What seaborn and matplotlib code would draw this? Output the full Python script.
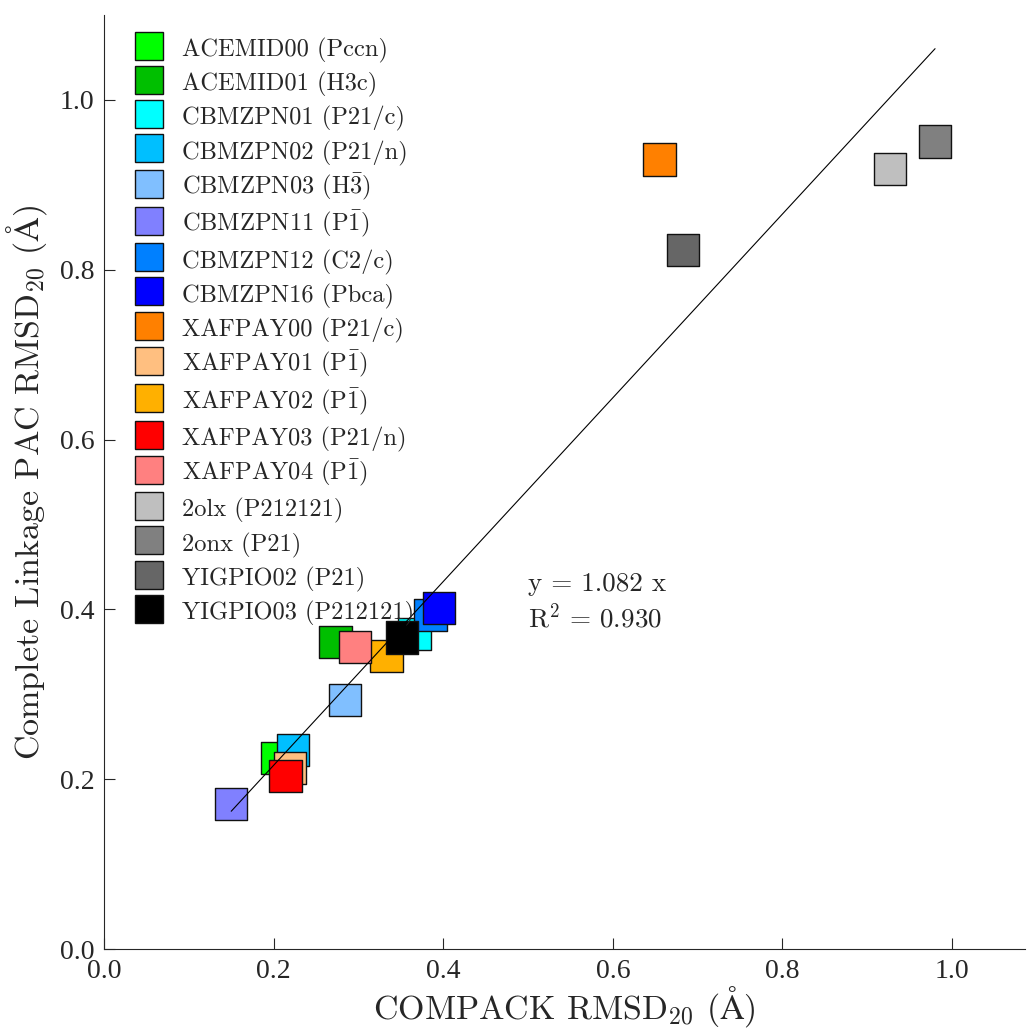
import numpy as np
import pandas as pd
import matplotlib
matplotlib.use('Agg')
import matplotlib.pyplot as plt
import seaborn as sns

# structure names (legend order = drawing order)
structures = [
    'ACEMID00 (Pccn)', 'ACEMID01 (H3c)', 'CBMZPN01 (P21/c)', 'CBMZPN02 (P21/n)',
    r'CBMZPN03 (H$\bar{3}$)', r'CBMZPN11 (P$\bar{1}$)', 'CBMZPN12 (C2/c)', 'CBMZPN16 (Pbca)',
    'XAFPAY00 (P21/c)', r'XAFPAY01 (P$\bar{1}$)', r'XAFPAY02 (P$\bar{1}$)', 'XAFPAY03 (P21/n)',
    r'XAFPAY04 (P$\bar{1}$)', '2olx (P212121)', '2onx (P21)', 'YIGPIO02 (P21)', 'YIGPIO03 (P212121)',
]
compack_rmsd = [0.204, 0.273, 0.366, 0.223, 0.284, 0.150, 0.385, 0.395,
                0.655, 0.219, 0.333, 0.214, 0.296, 0.927, 0.980, 0.683, 0.351]
pac_rmsd = [0.225, 0.362, 0.371, 0.234, 0.293, 0.171, 0.393, 0.402,
            0.930, 0.213, 0.345, 0.204, 0.356, 0.919, 0.951, 0.823, 0.367]
colours = ['#00ff00', '#00bf00', '#00ffff', '#00bfff', '#80bfff', '#8080ff', '#0080ff', '#0000ff',
           '#ff8000', '#ffbf80', '#ffb000', '#ff0000', '#ff8080', '#bfbfbf', '#808080', '#666666', '#000000']

slope = 1.082
r_squared = 0.930

df = pd.DataFrame({'structure': structures, 'compack': compack_rmsd, 'pac': pac_rmsd})
palette = dict(zip(structures, colours))

sns.set_style('ticks')
plt.rcParams['font.family'] = ['cmr10', 'DejaVu Serif']
plt.rcParams['mathtext.fontset'] = 'cm'
plt.rcParams['axes.unicode_minus'] = False
plt.rcParams['axes.formatter.use_mathtext'] = True

fig = plt.figure(figsize=(10.27, 10.29), dpi=100)
ax = fig.add_axes([0.1013, 0.0777, 0.8967, 0.9077])

sns.scatterplot(data=df, x='compack', y='pac', hue='structure', palette=palette,
                hue_order=structures, marker='s', s=540, edgecolor='#111111', linewidth=1.0,
                ax=ax, zorder=2)

# fitted line through the origin, over the data range
fit = pd.DataFrame({'x': [min(compack_rmsd), max(compack_rmsd)]})
fit['y'] = slope * fit['x']
ax.plot(fit['x'], fit['y'], color='black', linewidth=0.8, zorder=3)

ax.text(0.5, 0.430, f'y = {slope:.3f} x', fontsize=19.5, va='center', ha='left')
ax.text(0.5, 0.391, f'R$^2$ = {r_squared:.3f}', fontsize=19.5, va='center', ha='left')

ax.set_xlim(0, 1.086)
ax.set_ylim(0, 1.10)
ax.set_xticks([0.0, 0.2, 0.4, 0.6, 0.8, 1.0])
ax.set_yticks([0.0, 0.2, 0.4, 0.6, 0.8, 1.0])
ax.set_xticklabels([f'{v:.1f}' for v in ax.get_xticks()])
ax.set_yticklabels([f'{v:.1f}' for v in ax.get_yticks()])
ax.tick_params(direction='in', length=8, width=0.8, labelsize=20, pad=7,
               labelfontfamily='Liberation Serif')
sns.despine(ax=ax)
for s in ['left', 'bottom']:
    ax.spines[s].set_linewidth(0.8)

ax.set_xlabel(r'COMPACK RMSD$_{20}$ ($\mathrm{\AA}$)', fontsize=24.5, labelpad=0)
ax.set_ylabel(r'Complete Linkage PAC RMSD$_{20}$ ($\mathrm{\AA}$)', fontsize=24.5, labelpad=8)

leg = ax.legend(loc='upper left', bbox_to_anchor=(0.02, 0.9893), frameon=False, fontsize=17.6,
                markerscale=0.85, labelspacing=0.255, handletextpad=0.65, borderaxespad=0.0,
                handlelength=1.4, handleheight=1.3)
for h in leg.legend_handles:
    h.set_markeredgecolor('#111111')

fig.savefig('out.png', dpi=100)
